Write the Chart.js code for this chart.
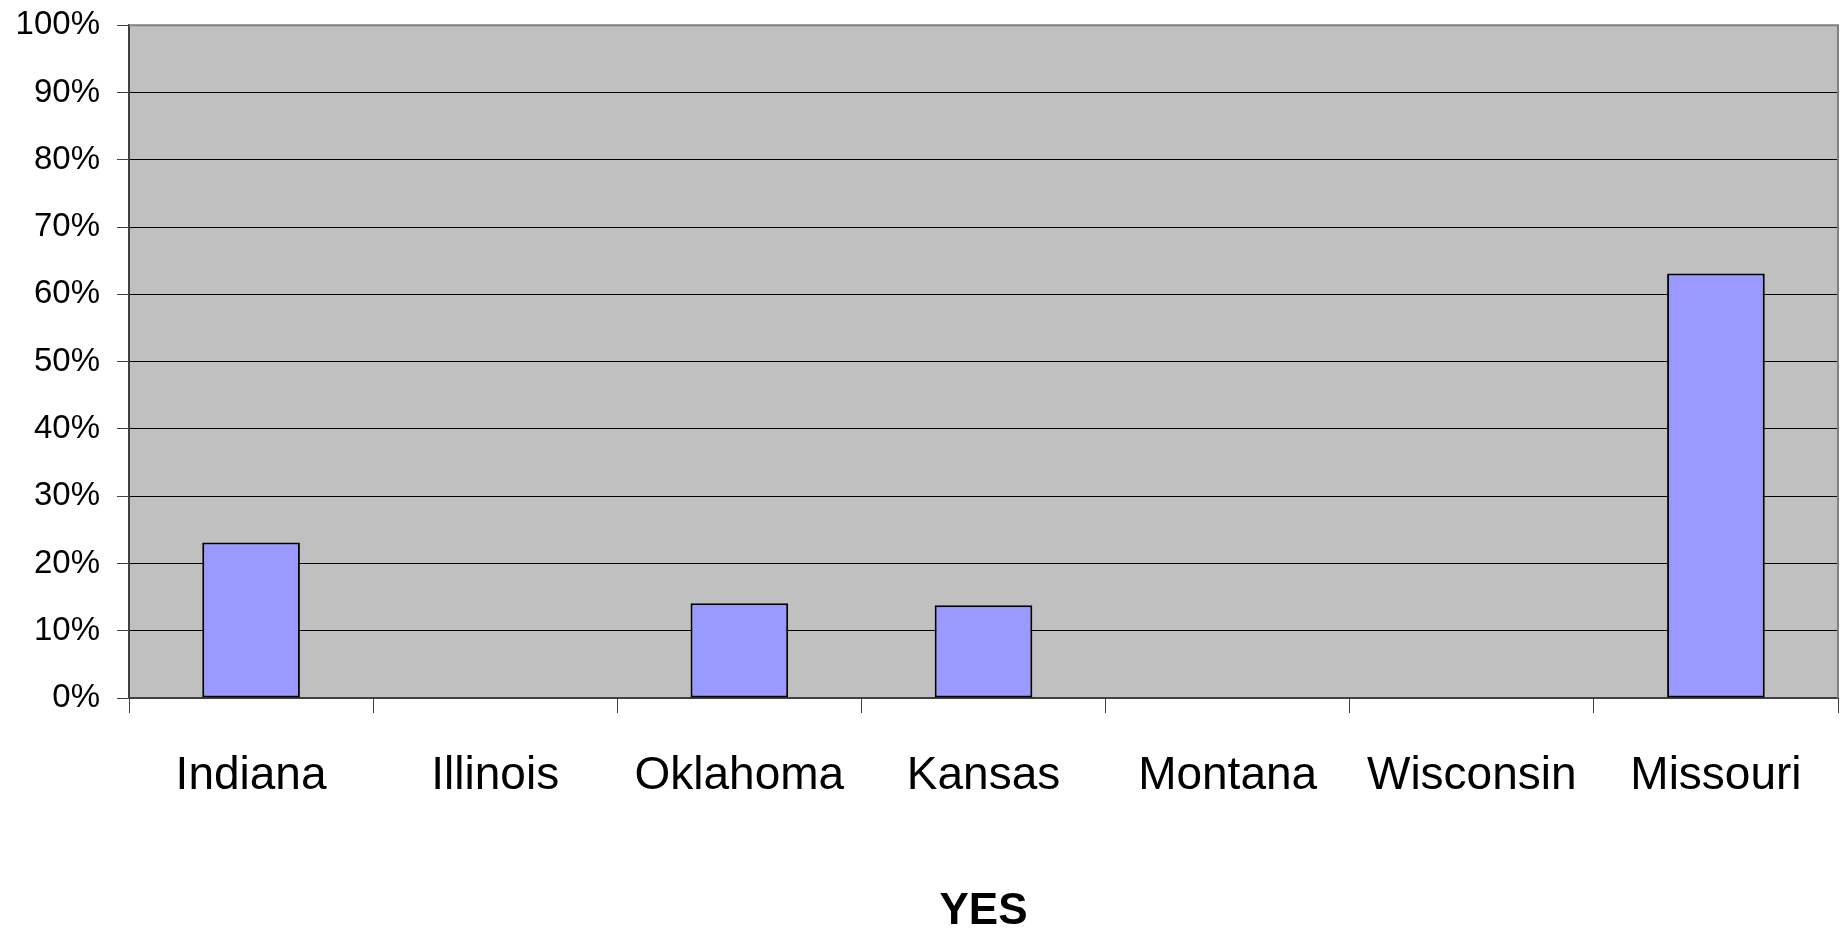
<!DOCTYPE html>
<html>
<head>
<meta charset="utf-8">
<script src="https://cdn.jsdelivr.net/npm/chart.js@4.4.0/dist/chart.umd.min.js"></script>
<style>
  body { margin: 0; background: #fff; }
  #wrap { width: 1845px; height: 929px; }
</style>
</head>
<body>
<div id="wrap"><canvas id="grafico" width="1845" height="929"></canvas></div>
<script>
const estados = ["Indiana", "Illinois", "Oklahoma", "Kansas", "Montana", "Wisconsin", "Missouri"];
const valoresSi = [23.1, 0, 14.1, 13.8, 0, 0, 63.1];
const titulo = "YES";

const fuente = "'Liberation Sans', Arial, sans-serif";

// fondo gris del area de trazado, como en Excel
const fondoPlot = {
  id: "fondoPlot",
  beforeDraw(chart) {
    const { ctx, chartArea: a } = chart;
    ctx.save();
    ctx.fillStyle = "#c0c0c0";
    ctx.fillRect(a.left, a.top, a.right - a.left, a.bottom - a.top);
    ctx.restore();
  },
  afterDraw(chart) {
    const { ctx, chartArea: a } = chart;
    ctx.save();
    ctx.strokeStyle = "#808080";
    ctx.lineWidth = 2;
    ctx.beginPath();
    ctx.moveTo(a.left, a.top);
    ctx.lineTo(a.right, a.top);
    ctx.lineTo(a.right, a.bottom);
    ctx.stroke();
    ctx.restore();
  }
};

new Chart(document.getElementById("grafico"), {
  type: "bar",
  data: {
    labels: estados,
    datasets: [{
      label: titulo,
      data: valoresSi,
      backgroundColor: "#9999ff",
      borderColor: "#000000",
      borderWidth: 2,
      borderSkipped: false,
      categoryPercentage: 1,
      barPercentage: 0.4
    }]
  },
  options: {
    responsive: false,
    animation: false,
    layout: { padding: { top: 23, right: 7, left: 0, bottom: 0 } },
    plugins: { legend: { display: false }, tooltip: { enabled: false } },
    scales: {
      y: {
        min: 0, max: 100,
        afterFit: s => { s.width = 129; },
        ticks: {
          stepSize: 10,
          padding: 17,
          color: "#000",
          font: { family: fuente, size: 33, lineHeight: 0.5 },
          callback: v => v + "%"
        },
        grid: { color: "#000", lineWidth: 1, tickLength: 12, tickColor: "#404040" },
        border: { color: "#404040", width: 2 }
      },
      x: {
        afterFit: s => { s.height = 231; },
        ticks: {
          padding: 40,
          color: "#000",
          maxRotation: 0,
          autoSkip: false,
          font: { family: fuente, size: 46, lineHeight: 1 }
        },
        grid: { drawOnChartArea: false, tickLength: 15, tickColor: "#404040", offset: true },
        border: { color: "#404040", width: 2 },
        title: {
          display: true,
          text: titulo,
          color: "#000",
          padding: { top: 0, bottom: 0 },
          font: { family: fuente, size: 44, weight: "bold", lineHeight: 0.8 }
        }
      }
    }
  },
  plugins: [fondoPlot]
});
</script>
</body>
</html>
